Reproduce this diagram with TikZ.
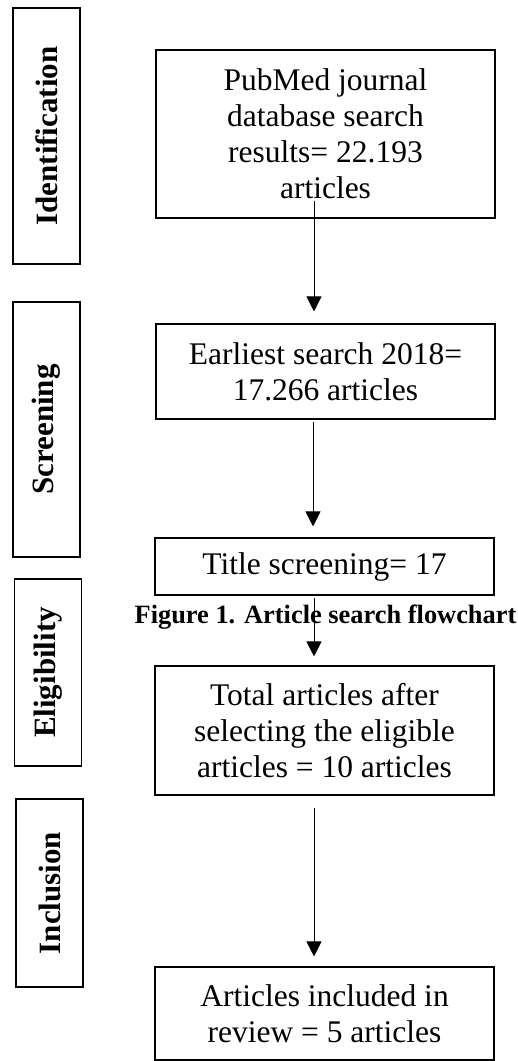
\documentclass[tikz,border=0pt]{standalone}
\usepackage{fontspec}
\setmainfont{Liberation Serif}
\usetikzlibrary{arrows.meta}
\begin{document}
\begin{tikzpicture}[x=1pt,y=1pt,
  flowbox/.style={draw, line width=1.1pt, minimum width=339pt, align=center, inner sep=0pt,
    font=\fontsize{31.5}{36}\selectfont},
  stagebox/.style={draw, line width=1.1pt, rotate=90, minimum height=67pt, inner sep=0pt,
    font=\fontsize{31}{36}\selectfont\bfseries},
  arr/.style={line width=1pt, -{Triangle[length=15pt,width=15pt]}}]
\useasboundingbox (0,0) rectangle (518,-1061);
% stage labels
\node[stagebox, minimum width=256pt] (s1) at (46.5,-136) {Identification};
\node[stagebox, minimum width=255pt] (s2) at (46.5,-429.5) {Screening};
\node[stagebox, minimum width=187pt] (s3) at (48,-672.5) {Eligibility};
\node[stagebox, minimum width=188pt] (s4) at (49.5,-893) {Inclusion};
% flow boxes
\node[flowbox, minimum height=168pt] (b1) at (325.5,-134) {PubMed journal\\database search\\results= 22.193\\articles};
\node[flowbox, minimum height=95pt] (b2) at (325.5,-371.5) {Earliest search 2018=\\17.266 articles};
\node[flowbox, minimum height=57pt] (b3) at (324.5,-566.5) {Title screening= 17};
\node[flowbox, minimum height=129pt] (b4) at (324.5,-730.5) {Total articles after\\selecting the eligible\\articles = 10 articles};
\node[flowbox, minimum height=93pt] (b5) at (324.5,-1013.5) {Articles included in\\review = 5 articles};
% caption
\node[anchor=base, inner sep=0pt, font=\fontsize{26.4}{30}\selectfont\bfseries] (cap) at (325.5,-623) {Figure 1. Article search flowchart};
% arrows
\draw[arr] ([xshift=-11.5pt,yshift=18pt]b1.south) -- ([xshift=-11.5pt,yshift=12pt]b2.north);
\draw[arr] ([xshift=-12.5pt,yshift=-2pt]b2.south) -- ([xshift=-11.5pt,yshift=11pt]b3.north);
\draw[arr] ([xshift=-10.5pt,yshift=-2pt]b3.south) -- ([xshift=-10.5pt,yshift=9pt]b4.north);
\draw[arr] ([xshift=-10.5pt,yshift=-12pt]b4.south) -- ([xshift=-10.5pt,yshift=10pt]b5.north);
\end{tikzpicture}
\end{document}
